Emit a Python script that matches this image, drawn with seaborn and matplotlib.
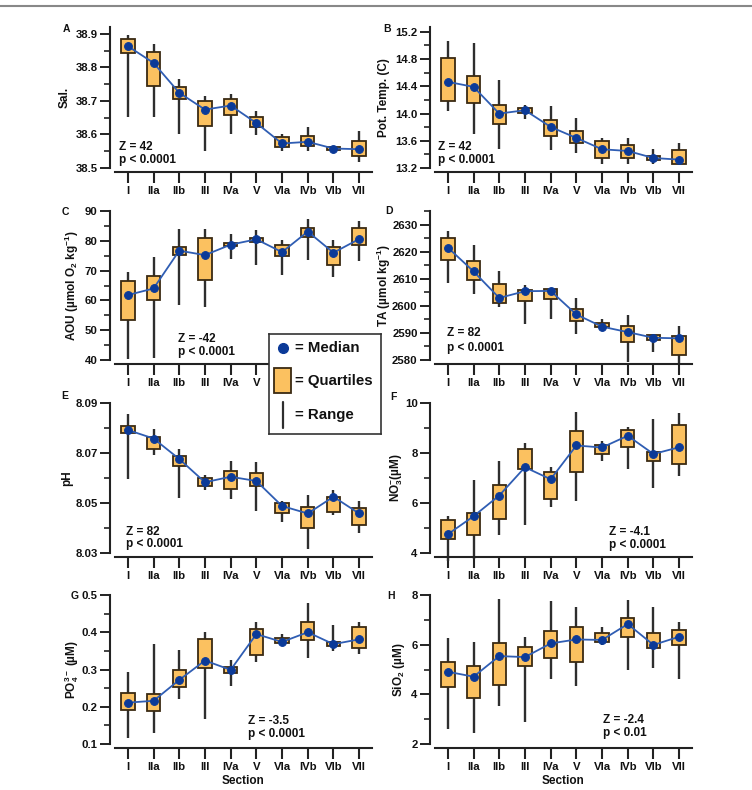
import numpy as np
import pandas as pd
import matplotlib
matplotlib.use("Agg")
import matplotlib.pyplot as plt
import seaborn as sns
from matplotlib.ticker import FixedLocator, MultipleLocator, FormatStrFormatter
from matplotlib.lines import Line2D
from matplotlib.patches import Rectangle

# ---------------- data ----------------
sections = ["I", "IIa", "IIb", "III", "IVa", "V", "VIa", "IVb", "VIb", "VII"]

sal_min = [38.651, 38.651, 38.602, 38.551, 38.602, 38.598, 38.550, 38.550, 38.551, 38.518]
sal_q1 = [38.842, 38.744, 38.706, 38.624, 38.659, 38.621, 38.563, 38.566, 38.554, 38.536]
sal_med = [38.863, 38.813, 38.724, 38.674, 38.686, 38.634, 38.573, 38.578, 38.558, 38.556]
sal_q3 = [38.883, 38.845, 38.742, 38.701, 38.707, 38.651, 38.591, 38.595, 38.562, 38.580]
sal_max = [38.895, 38.870, 38.764, 38.714, 38.719, 38.671, 38.602, 38.621, 38.563, 38.611]
sal_ticks = [38.5, 38.6, 38.7, 38.8, 38.9]

temp_min = [14.038, 13.705, 13.484, 13.916, 13.460, 13.425, 13.254, 13.254, 13.254, 13.240]
temp_q1 = [14.185, 14.161, 13.852, 14.009, 13.666, 13.568, 13.352, 13.352, 13.313, 13.254]
temp_med = [14.465, 14.391, 13.999, 14.048, 13.803, 13.641, 13.475, 13.450, 13.347, 13.323]
temp_q3 = [14.808, 14.548, 14.131, 14.082, 13.901, 13.744, 13.597, 13.533, 13.376, 13.460]
temp_max = [15.068, 15.028, 14.489, 14.122, 14.112, 13.940, 13.646, 13.646, 13.484, 13.568]
temp_ticks = [13.2, 13.6, 14.0, 14.4, 14.8, 15.2]

aou_min = [40.2, 40.6, 58.6, 57.9, 74.0, 71.8, 68.5, 73.7, 67.8, 73.1]
aou_q1 = [53.3, 60.0, 75.2, 66.7, 78.1, 79.6, 75.0, 81.3, 71.8, 78.6]
aou_med = [61.8, 64.0, 76.7, 75.2, 78.7, 80.5, 76.2, 83.1, 76.0, 80.6]
aou_q3 = [66.5, 68.2, 77.9, 81.0, 79.3, 81.0, 78.5, 84.2, 77.9, 84.4]
aou_max = [69.4, 74.5, 83.8, 84.1, 82.4, 83.5, 80.4, 87.4, 80.4, 86.8]
aou_ticks = [40, 50, 60, 70, 80, 90]

ta_min = [2608.6, 2604.5, 2599.4, 2593.2, 2595.3, 2589.7, 2591.9, 2579.4, 2583.1, 2578.8]
ta_q1 = [2617.0, 2609.7, 2601.1, 2601.7, 2602.4, 2594.3, 2592.1, 2586.6, 2587.5, 2581.8]
ta_med = [2621.5, 2612.7, 2602.9, 2605.4, 2605.5, 2596.8, 2592.3, 2590.3, 2588.2, 2588.0]
ta_q3 = [2625.2, 2616.6, 2607.9, 2605.9, 2606.2, 2599.0, 2593.8, 2592.4, 2589.1, 2588.8]
ta_max = [2627.8, 2622.5, 2612.7, 2607.8, 2606.6, 2603.0, 2595.3, 2596.5, 2589.6, 2592.5]
ta_ticks = [2580, 2590, 2600, 2610, 2620, 2630]

ph_min = [8.0595, 8.0692, 8.0522, 8.0552, 8.0516, 8.0469, 8.0425, 8.0317, 8.0450, 8.0380]
ph_q1 = [8.0779, 8.0715, 8.0646, 8.0568, 8.0556, 8.0569, 8.0458, 8.0398, 8.0465, 8.0410]
ph_med = [8.0792, 8.0758, 8.0676, 8.0583, 8.0605, 8.0588, 8.0488, 8.0458, 8.0525, 8.0458]
ph_q3 = [8.0810, 8.0763, 8.0686, 8.0601, 8.0629, 8.0619, 8.0498, 8.0485, 8.0525, 8.0479]
ph_max = [8.0856, 8.0796, 8.0718, 8.0611, 8.0668, 8.0666, 8.0509, 8.0532, 8.0552, 8.0509]
ph_ticks = [8.03, 8.05, 8.07, 8.09]

no3_min = [3.70, 3.77, 4.74, 5.11, 5.85, 6.09, 7.70, 7.35, 6.62, 7.09]
no3_q1 = [4.55, 4.74, 5.38, 7.36, 6.16, 7.24, 7.95, 8.22, 7.70, 7.56]
no3_med = [4.75, 5.47, 6.30, 7.43, 6.95, 8.30, 8.22, 8.69, 7.96, 8.23]
no3_q3 = [5.31, 5.61, 6.72, 8.15, 7.23, 8.89, 8.33, 8.93, 8.06, 9.13]
no3_max = [5.47, 6.92, 7.68, 8.39, 7.46, 9.64, 8.46, 9.04, 9.37, 9.62]
no3_ticks = [4, 6, 8, 10]

po4_min = [0.115, 0.130, 0.220, 0.168, 0.257, 0.319, 0.366, 0.332, 0.350, 0.341]
po4_q1 = [0.191, 0.189, 0.254, 0.303, 0.290, 0.338, 0.370, 0.379, 0.363, 0.357]
po4_med = [0.211, 0.216, 0.272, 0.324, 0.299, 0.395, 0.374, 0.400, 0.368, 0.381]
po4_q3 = [0.238, 0.234, 0.299, 0.381, 0.306, 0.410, 0.384, 0.428, 0.375, 0.413]
po4_max = [0.294, 0.368, 0.352, 0.400, 0.325, 0.427, 0.394, 0.478, 0.419, 0.428]
po4_ticks = [0.1, 0.2, 0.3, 0.4, 0.5]

sio2_min = [2.59, 2.46, 3.53, 2.90, 4.62, 4.34, 5.99, 4.98, 5.05, 4.60]
sio2_q1 = [4.31, 3.84, 4.38, 5.15, 5.45, 5.32, 6.11, 6.30, 5.88, 5.97]
sio2_med = [4.91, 4.71, 5.54, 5.50, 6.05, 6.21, 6.19, 6.83, 5.99, 6.32]
sio2_q3 = [5.29, 5.15, 6.05, 5.92, 6.54, 6.70, 6.46, 7.06, 6.46, 6.58]
sio2_max = [6.28, 6.12, 7.85, 6.30, 7.77, 7.50, 6.72, 7.80, 7.50, 6.90]
sio2_ticks = [2, 4, 6, 8]

# ---------------- style ----------------
sns.set_theme(style="ticks")
plt.rcParams["font.family"] = ["Liberation Sans", "DejaVu Sans"]
plt.rcParams["font.weight"] = "bold"
plt.rcParams["mathtext.fontset"] = "custom"
plt.rcParams["mathtext.rm"] = "Liberation Sans:bold"
plt.rcParams["mathtext.it"] = "Liberation Sans:bold"
plt.rcParams["mathtext.bf"] = "Liberation Sans:bold"
plt.rcParams["mathtext.sf"] = "Liberation Sans:bold"
plt.rcParams["mathtext.default"] = "rm"

BOX_C = "#FBC160"
EDGE_C = "#3A2A12"
RANGE_C = "#2E2E2E"
LINE_C = "#2F5DB3"
DOT_C = "#0B3A98"
AX_C = "#222222"
TXT_C = "#111111"

W, H = 752, 790
fig = plt.figure(figsize=(W / 100, H / 100), dpi=100)
fig.patch.set_facecolor("white")

col_x = [115, 435]
ax_w = 257
rows = [(27, 168), (211, 360), (403, 553), (595, 744)]


def make_ax(col, row):
    top, bot = rows[row]
    return fig.add_axes([col_x[col] / W, 1 - bot / H, ax_w / W, (bot - top) / H])


panels = [
    dict(col=0, row=0, letter="A", lpos=(66, 29), d=(sal_min, sal_q1, sal_med, sal_q3, sal_max),
         ylim=(38.5, 38.92), ticks=sal_ticks, minor=0.05, fmt="%.1f", ylabel="Sal.", lx=65,
         stat=("Z = 42", "p < 0.0001"), sx=0.016, sy=(0.149, 0.057)),
    dict(col=1, row=0, letter="B", lpos=(387, 29), d=(temp_min, temp_q1, temp_med, temp_q3, temp_max),
         ylim=(13.2, 15.27), ticks=temp_ticks, minor=0.2, fmt="%.1f", ylabel="Pot. Temp. (C)", lx=384,
         stat=("Z = 42", "p < 0.0001"), sx=0.012, sy=(0.149, 0.057)),
    dict(col=0, row=1, letter="C", lpos=(65, 212), d=(aou_min, aou_q1, aou_med, aou_q3, aou_max),
         ylim=(40, 90), ticks=aou_ticks, minor=5, fmt="%d", ylabel="AOU (µmol O$_2$ kg$^{-1}$)", lx=72,
         stat=("Z = -42", "p < 0.0001"), sx=0.245, sy=(0.141, 0.054)),
    dict(col=1, row=1, letter="D", lpos=(389, 211), d=(ta_min, ta_q1, ta_med, ta_q3, ta_max),
         ylim=(2580, 2635), ticks=ta_ticks, minor=5, fmt="%d", ylabel="TA (µmol kg$^{-1}$)", lx=384,
         stat=("Z = 82", "p < 0.0001"), sx=0.047, sy=(0.18, 0.08)),
    dict(col=0, row=2, letter="E", lpos=(65, 396), d=(ph_min, ph_q1, ph_med, ph_q3, ph_max),
         ylim=(8.03, 8.09), ticks=ph_ticks, minor=0.01, fmt="%.2f", ylabel="pH", lx=67,
         stat=("Z = 82", "p < 0.0001"), sx=0.043, sy=(0.14, 0.06)),
    dict(col=1, row=2, letter="F", lpos=(393, 397), d=(no3_min, no3_q1, no3_med, no3_q3, no3_max),
         ylim=(4, 10), ticks=no3_ticks, minor=1, fmt="%d", ylabel="NO$_3^{-}$(µM)", lx=397,
         stat=("Z = -4.1", "p < 0.0001"), sx=0.677, sy=(0.14, 0.053)),
    dict(col=0, row=3, letter="G", lpos=(75, 596), d=(po4_min, po4_q1, po4_med, po4_q3, po4_max),
         ylim=(0.1, 0.5), ticks=po4_ticks, minor=0.05, fmt="%.1f", ylabel="PO$_4^{3-}$ (µM)", lx=72,
         stat=("Z = -3.5", "p < 0.0001"), sx=0.517, sy=(0.154, 0.067)),
    dict(col=1, row=3, letter="H", lpos=(391, 596), d=(sio2_min, sio2_q1, sio2_med, sio2_q3, sio2_max),
         ylim=(2, 8), ticks=sio2_ticks, minor=1, fmt="%d", ylabel="SiO$_2$ (µM)", lx=399,
         stat=("Z = -2.4", "p < 0.01"), sx=0.654, sy=(0.161, 0.074)),
]

xpos = np.arange(len(sections))

for p in panels:
    ax = make_ax(p["col"], p["row"])
    vmin, q1, med, q3, vmax = [np.asarray(a, dtype=float) for a in p["d"]]
    ax.vlines(xpos, vmin, vmax, color=RANGE_C, lw=1.7, zorder=2, clip_on=False)
    ax.bar(xpos, q3 - q1, bottom=q1, width=0.52, color=BOX_C, edgecolor=EDGE_C,
           linewidth=1.3, zorder=3)
    df = pd.DataFrame({"pos": xpos, "median": med})
    sns.lineplot(data=df, x="pos", y="median", ax=ax, color=LINE_C, lw=1.3,
                 marker="o", markersize=5.6, markerfacecolor=DOT_C,
                 markeredgecolor=DOT_C, estimator=None, sort=False, zorder=4)

    ax.set_xlim(-0.5, len(sections) - 0.5)
    ax.set_ylim(*p["ylim"])
    ax.set_xticks(xpos)
    ax.set_xticklabels(sections)
    ax.yaxis.set_major_locator(FixedLocator(p["ticks"]))
    ax.yaxis.set_minor_locator(MultipleLocator(p["minor"]))
    ax.yaxis.set_major_formatter(FormatStrFormatter(p["fmt"]))
    ax.set_facecolor("none")

    for s in ["top", "right"]:
        ax.spines[s].set_visible(False)
    ax.spines["left"].set_position(("outward", 3.5))
    ax.spines["bottom"].set_position(("outward", 3))
    for s in ["left", "bottom"]:
        ax.spines[s].set_linewidth(1.5)
        ax.spines[s].set_color(AX_C)

    ax.tick_params(axis="x", length=8, width=1.5, pad=2, labelsize=8.2, colors=AX_C,
                   labelcolor=TXT_C)
    ax.tick_params(axis="y", which="major", length=7, width=1.4, pad=2, labelsize=8.2,
                   colors=AX_C, labelcolor=TXT_C)
    ax.tick_params(axis="y", which="minor", length=4, width=1.2, colors=AX_C)
    for lab in ax.get_xticklabels() + ax.get_yticklabels():
        lab.set_fontweight("bold")
    if p["letter"] == "C":
        # labels hidden behind the legend box in the reference
        for lab in ax.get_xticklabels()[6:]:
            lab.set_visible(False)

    ax.set_ylabel(p["ylabel"], fontsize=8.5, fontweight="bold", va="center", color=TXT_C)
    ax.yaxis.set_label_coords((p["lx"] - col_x[p["col"]]) / ax_w, 0.5)
    if p["row"] == 3:
        ax.set_xlabel("Section", fontsize=8.5, fontweight="bold", labelpad=2, color=TXT_C)
    else:
        ax.set_xlabel("")

    ax.text(p["sx"], p["sy"][0], p["stat"][0], transform=ax.transAxes, fontsize=8.5,
            fontweight="bold", va="center", ha="left", color=TXT_C)
    ax.text(p["sx"], p["sy"][1], p["stat"][1], transform=ax.transAxes, fontsize=8.5,
            fontweight="bold", va="center", ha="left", color=TXT_C)

    fig.text(p["lpos"][0] / W, 1 - p["lpos"][1] / H, p["letter"], fontsize=7.5,
             fontweight="bold", ha="center", va="center", color=TXT_C)

# ---------------- legend box ----------------
lg = fig.add_axes([269 / W, 1 - 434 / H, 112 / W, 100 / H], zorder=10)
lg.set_xlim(0, 112)
lg.set_ylim(100, 0)
lg.set_xticks([])
lg.set_yticks([])
lg.set_facecolor("white")
for s in lg.spines.values():
    s.set_linewidth(1.2)
    s.set_color("#333333")
lg.plot([13.5], [14], "o", color=DOT_C, markersize=7)
lg.add_patch(Rectangle((5, 34), 17, 25, facecolor=BOX_C, edgecolor=EDGE_C, linewidth=1.3))
lg.plot([13.5, 13.5], [68, 94], color=RANGE_C, lw=1.6)
for yy, txt in [(14, "= Median"), (47, "= Quartiles"), (81, "= Range")]:
    lg.text(26, yy, txt, fontsize=10.8, fontweight="bold", va="center", ha="left",
            color=TXT_C)

# top rule
fig.add_artist(Line2D([0, 1], [1 - 5.5 / H, 1 - 5.5 / H], color="#888888", lw=1.5))

fig.savefig("out.png", dpi=100, facecolor="white")
